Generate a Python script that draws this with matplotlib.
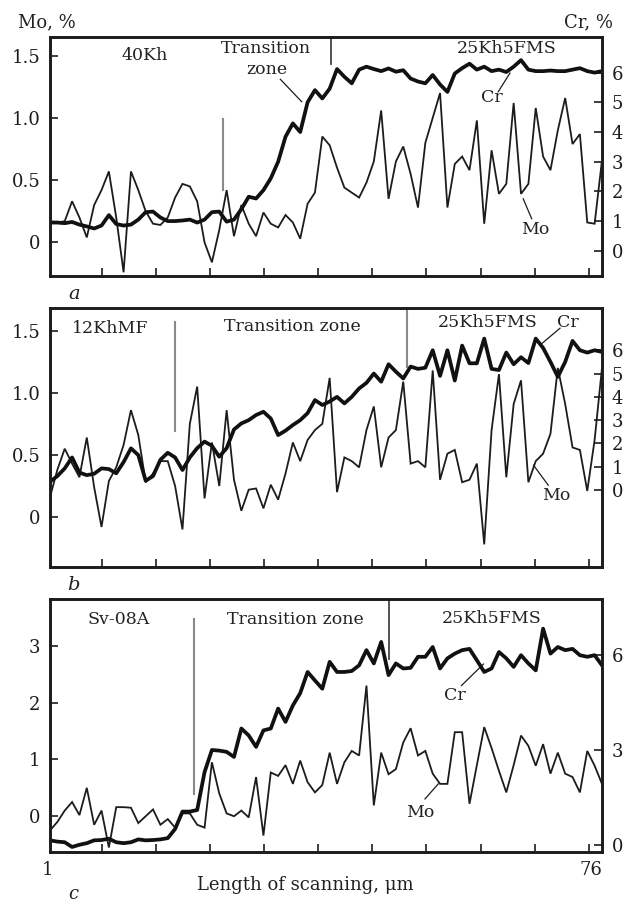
import matplotlib
matplotlib.use('Agg')
import matplotlib.pyplot as plt

plt.rcParams['font.family'] = ['DejaVu Serif']
plt.rcParams['text.color'] = '#222222'

# scanning positions, 1..76 um
x = list(range(1, 77))

# panel a: 40Kh / 25Kh5FMS
mo_a = [0.17, 0.16, 0.17, 0.33, 0.20, 0.04, 0.30, 0.42, 0.57, 0.20,
        -0.24, 0.57, 0.42, 0.25, 0.15, 0.14, 0.20, 0.36, 0.47, 0.45,
        0.33, 0.00, -0.16, 0.10, 0.42, 0.05, 0.30, 0.15, 0.05, 0.24,
        0.15, 0.12, 0.22, 0.16, 0.03, 0.31, 0.40, 0.85, 0.78, 0.60,
        0.44, 0.40, 0.36, 0.48, 0.65, 1.06, 0.35, 0.65, 0.77, 0.55,
        0.28, 0.80, 1.00, 1.20, 0.28, 0.63, 0.69, 0.58, 0.98, 0.15,
        0.74, 0.39, 0.47, 1.12, 0.39, 0.47, 1.08, 0.69, 0.58, 0.90,
        1.16, 0.79, 0.87, 0.16, 0.15, 0.66]
cr_a = [0.95, 0.95, 0.93, 0.97, 0.88, 0.82, 0.75, 0.85, 1.20, 0.90,
        0.85, 0.88, 1.05, 1.30, 1.32, 1.12, 1.00, 1.00, 1.02, 1.05,
        0.95, 1.05, 1.30, 1.32, 0.98, 1.05, 1.40, 1.82, 1.76, 2.04,
        2.44, 3.00, 3.84, 4.29, 4.00, 5.00, 5.41, 5.13, 5.46, 6.12,
        5.86, 5.64, 6.10, 6.20, 6.12, 6.05, 6.14, 6.03, 6.08, 5.80,
        5.70, 5.64, 5.92, 5.60, 5.35, 5.97, 6.15, 6.30, 6.10, 6.20,
        6.05, 6.10, 6.02, 6.20, 6.42, 6.10, 6.05, 6.05, 6.07, 6.05,
        6.05, 6.10, 6.15, 6.05, 6.00, 6.05]

# panel b: 12KhMF / 25Kh5FMS
mo_b = [0.16, 0.38, 0.55, 0.43, 0.32, 0.64, 0.24, -0.08, 0.29, 0.40,
        0.58, 0.86, 0.66, 0.28, 0.35, 0.45, 0.45, 0.25, -0.10, 0.75,
        1.05, 0.15, 0.60, 0.25, 0.86, 0.30, 0.05, 0.22, 0.23, 0.07,
        0.26, 0.14, 0.35, 0.60, 0.45, 0.62, 0.70, 0.75, 1.12, 0.20,
        0.48, 0.45, 0.40, 0.70, 0.89, 0.40, 0.64, 0.70, 1.09, 0.43,
        0.45, 0.40, 1.18, 0.30, 0.51, 0.54, 0.28, 0.30, 0.43, -0.22,
        0.70, 1.15, 0.32, 0.91, 1.10, 0.28, 0.45, 0.51, 0.67, 1.20,
        0.91, 0.56, 0.54, 0.21, 0.62, 1.20]
cr_b = [0.36, 0.60, 0.93, 1.40, 0.75, 0.64, 0.70, 0.93, 0.90, 0.72,
        1.20, 1.79, 1.50, 0.40, 0.60, 1.30, 1.60, 1.40, 0.86, 1.40,
        1.80, 2.08, 1.90, 1.43, 1.80, 2.60, 2.86, 3.00, 3.22, 3.36,
        3.07, 2.36, 2.55, 2.79, 3.00, 3.30, 3.86, 3.65, 3.80, 4.00,
        3.72, 4.00, 4.36, 4.60, 5.00, 4.65, 5.40, 5.08, 4.79, 5.30,
        5.20, 5.25, 6.00, 4.90, 6.00, 4.70, 6.20, 5.44, 5.44, 6.50,
        5.20, 5.15, 5.90, 5.40, 5.70, 5.45, 6.50, 6.10, 5.50, 4.86,
        5.50, 6.40, 6.00, 5.90, 6.00, 5.93]

# panel c: Sv-08A / 25Kh5FMS
mo_c = [-0.25, -0.10, 0.10, 0.25, 0.02, 0.50, -0.15, 0.10, -0.55, 0.16,
        0.16, 0.15, -0.12, 0.00, 0.12, -0.15, -0.05, -0.20, 0.05, 0.05,
        -0.15, -0.20, 0.95, 0.40, 0.05, 0.00, 0.10, -0.02, 0.69, -0.34,
        0.77, 0.71, 0.90, 0.57, 0.98, 0.60, 0.42, 0.55, 1.12, 0.57,
        0.95, 1.15, 1.07, 2.30, 0.19, 1.12, 0.74, 0.83, 1.30, 1.55,
        1.07, 1.15, 0.75, 0.57, 0.57, 1.48, 1.48, 0.22, 0.90, 1.57,
        1.20, 0.80, 0.42, 0.90, 1.42, 1.24, 0.89, 1.27, 0.75, 1.12,
        0.75, 0.69, 0.42, 1.15, 0.89, 0.57]
cr_c = [0.14, 0.10, 0.08, -0.07, 0.00, 0.05, 0.14, 0.15, 0.19, 0.08,
        0.05, 0.08, 0.17, 0.14, 0.15, 0.17, 0.21, 0.50, 1.05, 1.05,
        1.10, 2.30, 3.00, 2.98, 2.94, 2.78, 3.68, 3.46, 3.10, 3.62,
        3.68, 4.31, 3.89, 4.41, 4.80, 5.47, 5.20, 4.94, 5.79, 5.47,
        5.47, 5.50, 5.68, 6.16, 5.74, 6.42, 5.37, 5.74, 5.58, 5.60,
        5.95, 5.95, 6.26, 5.58, 5.90, 6.05, 6.16, 6.20, 5.84, 5.47,
        5.58, 6.10, 5.90, 5.63, 6.00, 5.74, 5.52, 6.84, 6.05, 6.26,
        6.16, 6.20, 6.00, 5.95, 6.00, 5.68]

xticks = [8.0, 15.4, 22.7, 30.1, 37.4, 44.8, 52.1, 59.5, 66.9, 74.3]

INK = '#1c1c1c'
GRAY = '#8a8a8a'
FS = 12.5

fig = plt.figure(figsize=(6.32, 9.02), dpi=100)


def panel(rect, mo, cr, mo_lim, cr_lim, mo_ticks, mo_labels, cr_ticks):
    ax = fig.add_axes(rect)
    ax.plot(x, mo, color=INK, lw=1.3, solid_joinstyle='miter')
    ax.set_xlim(1, 76)
    ax.set_ylim(*mo_lim)
    ax.set_xticks(xticks)
    ax.set_xticklabels([])
    ax.set_yticks(mo_ticks)
    ax.set_yticklabels(mo_labels)
    ax.tick_params(direction='in', length=6, width=1.2, labelsize=13,
                   pad=7, colors=INK)
    ax2 = ax.twinx()
    ax2.plot(x, cr, color='#111111', lw=2.7, solid_joinstyle='round')
    ax2.set_ylim(*cr_lim)
    ax2.set_yticks(cr_ticks)
    ax2.set_yticklabels([str(t) for t in cr_ticks])
    ax2.tick_params(direction='in', length=6, width=1.2, labelsize=13,
                    pad=7, colors=INK)
    for a in (ax, ax2):
        for s in a.spines.values():
            s.set_linewidth(1.9)
            s.set_color(INK)
    return ax


# ---- a ----
ax_a = panel([0.0791, 0.694, 0.8734, 0.265], mo_a, cr_a,
             (-0.27, 1.65), (-0.85, 7.2),
             [0, 0.5, 1.0, 1.5], ['0', '0.5', '1.0', '1.5'],
             [0, 1, 2, 3, 4, 5, 6])
ax_a.plot([24.5, 24.5], [0.42, 0.99], color=GRAY, lw=1.5)
ax_a.plot([39.2, 39.2], [1.43, 1.65], color='#444444', lw=1.3)
ax_a.text(13.9, 1.5, '40Kh', ha='center', va='center', fontsize=FS)
ax_a.text(30.4, 1.56, 'Transition', ha='center', va='center', fontsize=FS)
ax_a.text(30.4, 1.39, 'zone', ha='center', va='center', fontsize=FS)
ax_a.plot([32.3, 35.2], [1.31, 1.13], color=INK, lw=0.9)
ax_a.text(63.0, 1.555, '25Kh5FMS', ha='center', va='center', fontsize=FS)
ax_a.text(61.0, 1.16, 'Cr', ha='center', va='center', fontsize=FS)
ax_a.plot([61.9, 63.5], [1.21, 1.36], color=INK, lw=0.9)
ax_a.text(66.9, 0.10, 'Mo', ha='center', va='center', fontsize=FS)
ax_a.plot([66.45, 65.3], [0.19, 0.35], color=INK, lw=0.9)
ax_a.text(0.043, -0.075, 'a', transform=ax_a.transAxes, ha='center',
          va='center', fontsize=14, style='italic')

# ---- b ----
ax_b = panel([0.0791, 0.3717, 0.8734, 0.2865], mo_b, cr_b,
             (-0.40, 1.68), (-3.29, 7.8),
             [0, 0.5, 1.0, 1.5], ['0', '0.5', '1.0', '1.5'],
             [0, 1, 2, 3, 4, 5, 6])
ax_b.plot([18.0, 18.0], [0.69, 1.57], color=GRAY, lw=1.5)
ax_b.plot([49.5, 49.5], [1.21, 1.68], color=GRAY, lw=1.5)
ax_b.text(9.15, 1.52, '12KhMF', ha='center', va='center', fontsize=FS)
ax_b.text(34.0, 1.53, 'Transition zone', ha='center', va='center', fontsize=FS)
ax_b.text(60.5, 1.565, '25Kh5FMS', ha='center', va='center', fontsize=FS)
ax_b.text(71.4, 1.565, 'Cr', ha='center', va='center', fontsize=FS)
ax_b.plot([70.3, 67.6], [1.52, 1.385], color=INK, lw=0.9)
ax_b.text(69.85, 0.175, 'Mo', ha='center', va='center', fontsize=FS)
ax_b.plot([68.7, 66.7], [0.256, 0.417], color=INK, lw=0.9)
ax_b.text(0.043, -0.071, 'b', transform=ax_b.transAxes, ha='center',
          va='center', fontsize=14, style='italic')

# ---- c ----
ax_c = panel([0.0791, 0.0554, 0.8734, 0.2802], mo_c, cr_c,
             (-0.63, 3.82), (-0.23, 7.77),
             [0, 1, 2, 3], ['0', '1', '2', '3'],
             [0, 3, 6])
ax_c.plot([20.6, 20.6], [0.39, 3.47], color=GRAY, lw=1.5)
ax_c.plot([47.0, 47.0], [2.77, 3.82], color='#444444', lw=1.3)
ax_c.text(10.3, 3.46, 'Sv-08A', ha='center', va='center', fontsize=FS)
ax_c.text(34.3, 3.47, 'Transition zone', ha='center', va='center', fontsize=FS)
ax_c.text(61.0, 3.49, '25Kh5FMS', ha='center', va='center', fontsize=FS)
ax_c.text(56.0, 2.125, 'Cr', ha='center', va='center', fontsize=FS)
ax_c.plot([56.9, 59.9], [2.30, 2.68], color=INK, lw=0.9)
ax_c.text(51.3, 0.07, 'Mo', ha='center', va='center', fontsize=FS)
ax_c.plot([51.95, 53.76], [0.305, 0.57], color=INK, lw=0.9)
ax_c.text(-0.004, -0.071, '1', transform=ax_c.transAxes, ha='center',
          va='center', fontsize=13)
ax_c.text(0.98, -0.071, '76', transform=ax_c.transAxes, ha='center',
          va='center', fontsize=13)
ax_c.text(0.463, -0.13, 'Length of scanning, \u03bcm', transform=ax_c.transAxes,
          ha='center', va='center', fontsize=13)
ax_c.text(0.043, -0.166, 'c', transform=ax_c.transAxes, ha='center',
          va='center', fontsize=13, style='italic')

fig.text(47 / 632, 1 - 22 / 902, 'Mo, %', ha='center', va='center', fontsize=13)
fig.text(589 / 632, 1 - 22 / 902, 'Cr, %', ha='center', va='center', fontsize=13)

fig.savefig('out.png', dpi=100)
